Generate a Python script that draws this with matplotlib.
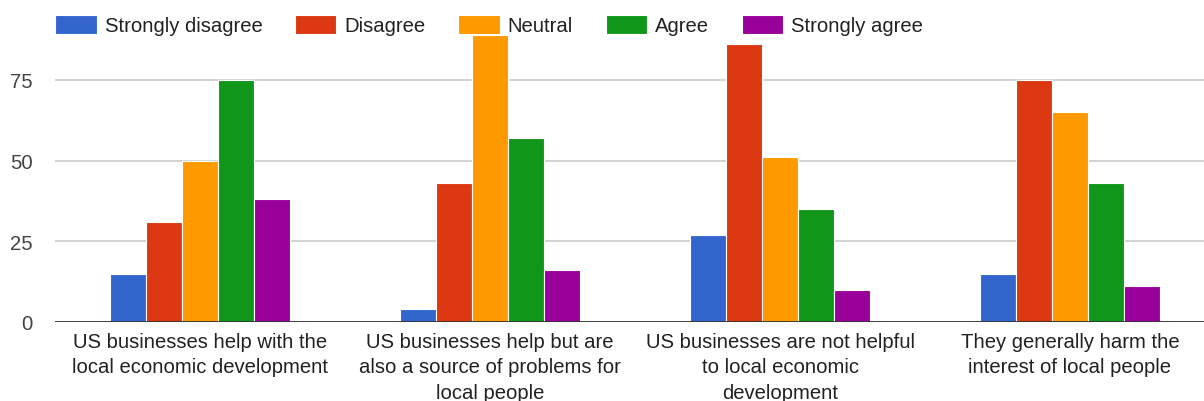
import numpy as np
import matplotlib.pyplot as plt

plt.rcParams['font.family'] = ['Liberation Sans', 'DejaVu Sans']

categories = [
    'US businesses help with the\nlocal economic development',
    'US businesses help but are\nalso a source of problems for\nlocal people',
    'US businesses are not helpful\nto local economic\ndevelopment',
    'They generally harm the\ninterest of local people',
]
responses = ['Strongly disagree', 'Disagree', 'Neutral', 'Agree', 'Strongly agree']
strongly_disagree = [15, 4, 27, 15]
disagree = [31, 43, 86, 75]
neutral = [50, 89, 51, 65]
agree = [75, 57, 35, 43]
strongly_agree = [38, 16, 10, 11]
colors = ['#3366cc', '#dc3912', '#ff9900', '#109618', '#990099']

series = [strongly_disagree, disagree, neutral, agree, strongly_agree]

fig = plt.figure(figsize=(12.04, 4.02), dpi=100)
ax = fig.add_axes([55 / 1204, 79 / 402, 1 - 55 / 1204, 323 / 402])

x = np.arange(len(categories))
width = 0.124
for i, (vals, name, c) in enumerate(zip(series, responses, colors)):
    ax.bar(x + (i - 2) * width, vals, width, color=c, label=name,
           edgecolor='white', linewidth=0.8, zorder=3)

ax.set_ylim(0, 100)
ax.set_xlim(-0.5, 3.5 - 11 / 290)
ax.set_yticks([0, 25, 50, 75])
ax.yaxis.grid(True, color='#cccccc', linewidth=1.2, zorder=0)
ax.axhline(0, color='#333333', linewidth=2, zorder=4)
for s in ax.spines.values():
    s.set_visible(False)
ax.tick_params(axis='y', length=0, labelsize=14.6, labelcolor='#444444', pad=16)
ax.tick_params(axis='x', length=0, labelsize=14.6, labelcolor='#222222', pad=7)
ax.set_xticks(x)
ax.set_xticklabels(categories, linespacing=1.45, va='top')

fig.legend(loc='center left', bbox_to_anchor=(55 / 1204, 1 - 26 / 402), ncol=5,
           frameon=False, fontsize=14.6, handlelength=2.05, handleheight=1.1,
           handletextpad=0.4, columnspacing=1.6, labelcolor='#222222',
           borderaxespad=0, borderpad=0)

fig.savefig('out.png', dpi=100)
